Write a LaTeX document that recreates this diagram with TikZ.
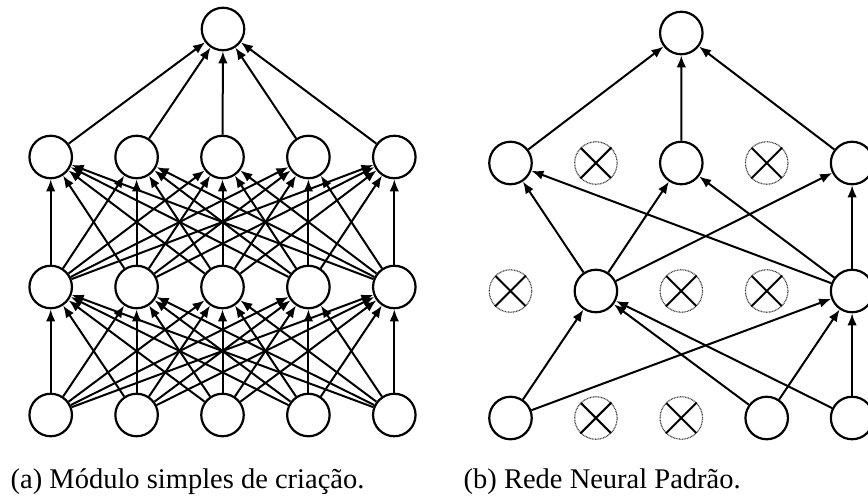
\documentclass[tikz,border=0pt]{standalone}
\usepackage{fontspec}
\setmainfont{Liberation Serif}
\usetikzlibrary{arrows.meta}
\begin{document}
\begin{tikzpicture}[x=1pt,y=-1pt,
  unit/.style={circle,draw,line width=2.2pt,minimum size=42.5pt,inner sep=0pt,fill=white},
  dropped/.style={circle,draw=black!75,line width=1.2pt,dash pattern=on 0.9pt off 0.7pt,
    minimum size=42.5pt,inner sep=0pt},
  cross/.style={line width=2pt,shorten >=0.6pt,shorten <=0.6pt},
  link/.style={line width=2pt,-{Latex[length=12pt,width=9.5pt]}},
  caption/.style={anchor=base west,inner sep=0pt,font=\fontsize{28.5}{32}\selectfont}]
\clip (0,0) rectangle (868,498);

% (a) fully connected network
\foreach \c in {0,...,4} {
  \node[unit] (ain-\c) at ({50.7+85.9*\c},415) {};
  \node[unit] (ah1-\c) at ({50.7+85.9*\c},287) {};
  \node[unit] (ah2-\c) at ({50.7+85.9*\c},157) {};
}
\node[unit] (aout) at (223,29) {};
\foreach \i in {0,...,4} {
  \foreach \j in {0,...,4} {
    \draw[link] (ain-\i) -- (ah1-\j);
    \draw[link] (ah1-\i) -- (ah2-\j);
  }
  \draw[link] (ah2-\i) -- (aout);
}

% (b) network with dropped units
\foreach \c/\k in {0/unit,1/dropped,2/dropped,3/unit,4/unit}
  \node[\k] (bin-\c) at ({510.5+85.4*\c},418) {};
\foreach \c/\k in {0/dropped,1/unit,2/dropped,3/dropped,4/unit}
  \node[\k] (bh1-\c) at ({510.5+85.4*\c},291) {};
\foreach \c/\k in {0/unit,1/dropped,2/unit,3/dropped,4/unit}
  \node[\k] (bh2-\c) at ({510.5+85.4*\c},163) {};
\node[unit] (bout) at (681.3,33) {};

\foreach \n in {bin-1,bin-2,bh1-0,bh1-2,bh1-3,bh2-1,bh2-3}
  \draw[cross] (\n.north east) -- (\n.south west) (\n.north west) -- (\n.south east);

\foreach \i in {0,3,4} \foreach \j in {1,4} \draw[link] (bin-\i) -- (bh1-\j);
\foreach \i in {1,4} \foreach \j in {0,2,4} \draw[link] (bh1-\i) -- (bh2-\j);
\foreach \i in {0,2,4} \draw[link] (bh2-\i) -- (bout);

% captions
\node[caption] (capa) at (10.5,488) {(a) Módulo simples de criação.};
\node[caption] (capb) at (463.5,488) {(b) Rede Neural Padrão.};
\end{tikzpicture}
\end{document}
